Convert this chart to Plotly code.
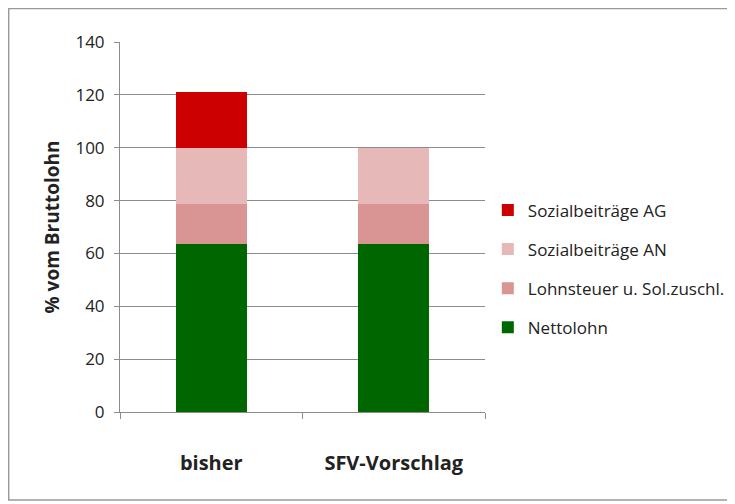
import plotly.graph_objects as go

categories = ["bisher", "SFV-Vorschlag"]
nettolohn = [63.5, 63.5]
lohnsteuer = [15.3, 15.3]
sozial_an = [21.2, 21.2]
sozial_ag = [21.0, 0]

series = [
    ("Nettolohn", nettolohn, "#006600", 4),
    ("Lohnsteuer u. Sol.zuschl.", lohnsteuer, "#D99594", 3),
    ("Sozialbeiträge AN", sozial_an, "#E6B8B7", 2),
    ("Sozialbeiträge AG", sozial_ag, "#CC0000", 1),
]

fig = go.Figure()
for name, vals, col, rank in series:
    fig.add_trace(go.Bar(x=categories, y=vals, name=name, legendgroup=name, legendrank=rank,
                         marker=dict(color=col, line=dict(width=0))))

font = "'Open Sans', Lato, sans-serif"
fig.update_layout(
    width=727, height=496,
    barmode="stack", bargap=0.61,
    paper_bgcolor="white", plot_bgcolor="white",
    margin=dict(l=112, r=250, t=34, b=92, autoexpand=False),
    font=dict(family=font, color="#222", size=17),
    legend=dict(traceorder="grouped", xref="container", yref="container",
                x=0.660, y=0.474, yanchor="middle", xanchor="left",
                bgcolor="rgba(0,0,0,0)",
                font=dict(size=17, color="#222"), itemwidth=30, tracegroupgap=14),
    showlegend=True,
    shapes=[dict(type="rect", xref="paper", yref="paper", x0=-0.305, x1=1.679, y0=-0.238, y1=1.0905,
                 line=dict(color="#999", width=1.5), fillcolor="rgba(0,0,0,0)", layer="below")],
)
fig.update_yaxes(range=[0, 140], dtick=20, showgrid=True, gridcolor="#8c8c8c", gridwidth=1,
                 showline=True, linecolor="#8c8c8c", ticks="outside", ticklen=5, tickcolor="#8c8c8c",
                 tickfont=dict(size=17), zeroline=False, ticklabelstandoff=6,
                 title=dict(text="<b>% vom Bruttolohn</b>", font=dict(size=19), standoff=10))
fig.update_xaxes(showline=True, linecolor="#8c8c8c", ticks="outside", ticklen=6, tickcolor="#8c8c8c",
                 tickson="boundaries", tickfont=dict(size=20, color="#222"), ticklabelstandoff=33,
                 tickprefix="<b>", ticksuffix="</b>")

fig.write_html("out.html")
